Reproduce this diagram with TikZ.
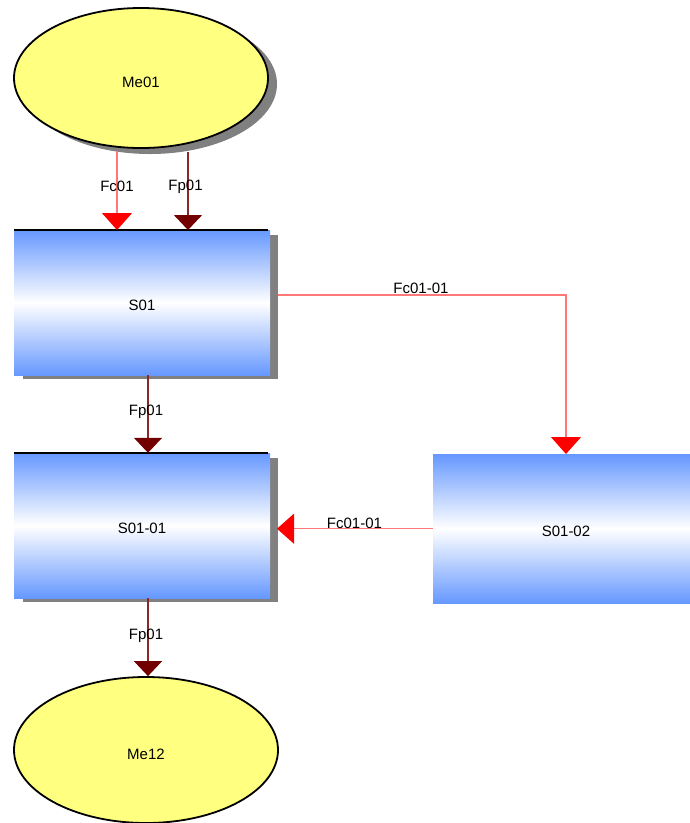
\documentclass[tikz,border=0pt]{standalone}
\usepackage{fontspec}
\setmainfont{Liberation Sans}
\usetikzlibrary{shapes.geometric,arrows.meta,calc,backgrounds}
\definecolor{ellfill}{RGB}{255,255,128}
\definecolor{boxblue}{RGB}{102,152,255}
\definecolor{fcline}{RGB}{255,120,120}
\definecolor{fchead}{RGB}{255,0,0}
\definecolor{fpline}{RGB}{140,40,40}
\definecolor{fphead}{RGB}{115,0,0}
\definecolor{shadowgray}{RGB}{128,128,128}
\begin{document}
\begin{tikzpicture}[x=1pt,y=-1pt, font=\fontsize{15}{17}\selectfont,
  ell/.style={ellipse, draw=black, line width=1.8pt, fill=ellfill, inner sep=0pt,
    text height=19pt, text depth=0pt},
  procbox/.style={rectangle, inner sep=0pt, minimum width=256pt, minimum height=145pt,
    top color=boxblue, bottom color=boxblue, middle color=white,
    text height=16pt, text depth=0pt},
  topline/.style={black, line width=1.8pt},
  fc/.style={draw=fcline, line width=1.2pt, -{Triangle[width=30pt,length=17pt,color=fchead]}},
  fp/.style={draw=fpline, line width=1.6pt, -{Triangle[width=28pt,length=15pt,color=fphead]}},
  lbl/.style={inner sep=0pt, text=black, text height=11pt, text depth=0pt},
  shadowfill/.style={fill=shadowgray}]
\useasboundingbox (0,0) rectangle (689,823);

% nodes
\node[ell, minimum width=254pt, minimum height=140pt] (Me01) at (141,78) {Me01};
\node[procbox] (S01) at (142,302.7) {S01};
\node[procbox] (S0101) at (142,525.5) {S01-01};
\node[procbox, minimum width=266pt, minimum height=149pt, text height=15pt] (S0102) at (566,528.7) {S01-02};
\node[ell, minimum width=264pt, minimum height=146pt] (Me12) at (146,750) {Me12};

% top black edges
\draw[topline] (S01.north west) -- ($(S01.north east)+(-2,0)$);
\draw[topline] (S0101.north west) -- ($(S0101.north east)+(-2,0)$);

% shadows
\begin{scope}[on background layer]
  \fill[shadowfill] ($(Me01.center)+(9,6)$) ellipse [x radius=127, y radius=70];
  \fill[shadowfill] ($(S01.south west)+(9,4)$) rectangle ($(S01.north east)+(8,5)$);
  \fill[shadowfill] ($(S0101.south west)+(9,4)$) rectangle ($(S0101.north east)+(8,5)$);
\end{scope}

% helper coordinates
\coordinate (fcA) at (117,151);
\coordinate (fpA) at (188,152);
\coordinate (fcB) at (278,295);
\coordinate (fpx) at (148,0);
\coordinate (shx) at (277,0);

% connectors
\draw[fc] (fcA) -- (fcA |- S01.north);
\draw[fp] (fpA) -- (fpA |- S01.north);
\draw[fc] (fcB) -| (S0102.north);
\draw[fp] (fpx |- S01.south) -- (fpx |- S0101.north);
\draw[fc] (S0102.west) -- (shx |- S0102.west);
\draw[fp] (fpx |- S0101.south) -- (fpx |- Me12.north);

% labels
\node[lbl] (l1) at (117,185.5) {Fc01};
\node[lbl] (l2) at (185.5,184.5) {Fp01};
\node[lbl] (l3) at (421,288.3) {Fc01-01};
\node[lbl] (l4) at (146,410) {Fp01};
\node[lbl] (l5) at (354.5,522.5) {Fc01-01};
\node[lbl] (l6) at (146,634) {Fp01};
\end{tikzpicture}
\end{document}
